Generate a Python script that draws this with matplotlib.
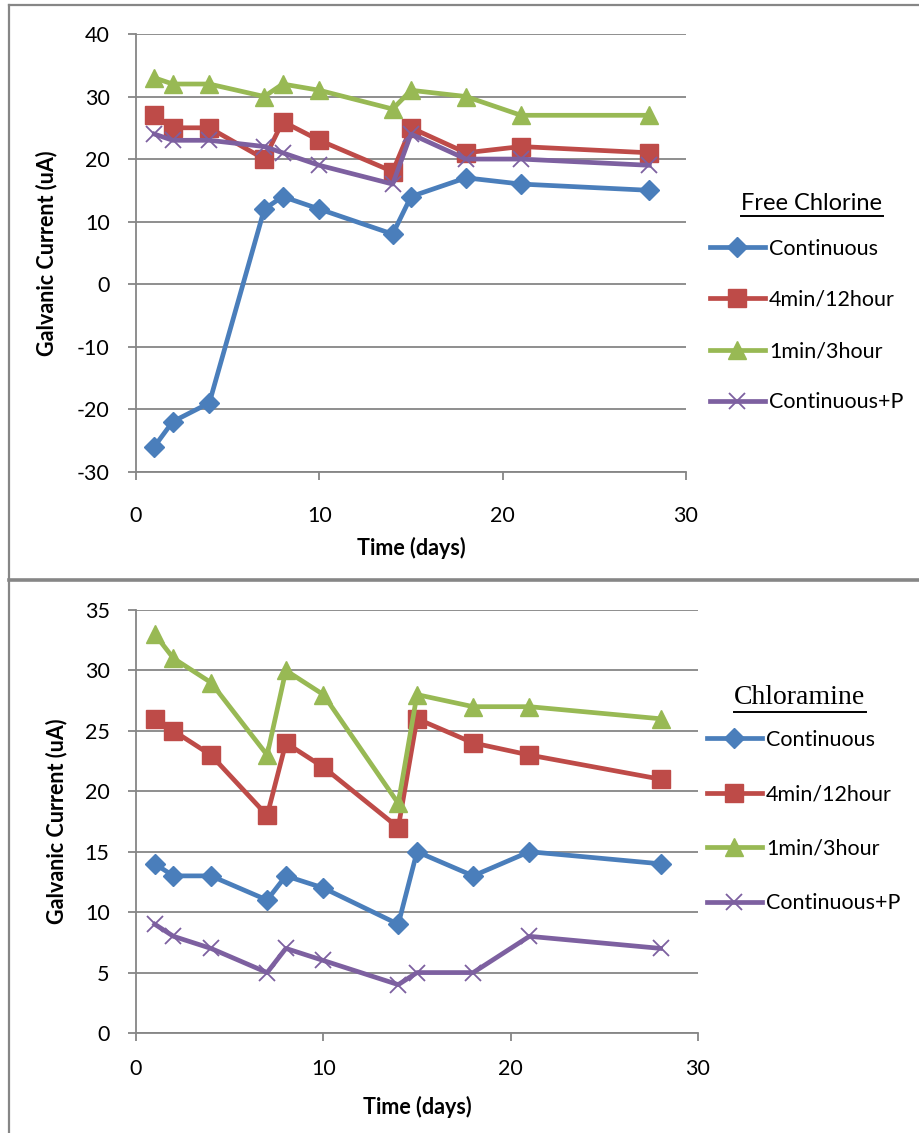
import matplotlib
matplotlib.use("Agg")
import matplotlib.pyplot as plt
from matplotlib.lines import Line2D

plt.rcParams['font.family'] = ['Lato', 'DejaVu Sans']
plt.rcParams['axes.unicode_minus'] = False

# sampling days
days = [1, 2, 4, 7, 8, 10, 14, 15, 18, 21, 28]
series_names = ['Continuous', '4min/12hour', '1min/3hour', 'Continuous+P']

# free chlorine, galvanic current (uA)
fc_continuous = [-26, -22, -19, 12, 14, 12, 8, 14, 17, 16, 15]
fc_4min_12h = [27, 25, 25, 20, 26, 23, 18, 25, 21, 22, 21]
fc_1min_3h = [33, 32, 32, 30, 32, 31, 28, 31, 30, 27, 27]
fc_continuous_p = [24, 23, 23, 22, 21, 19, 16, 24, 20, 20, 19]

# chloramine, galvanic current (uA)
cl_continuous = [14, 13, 13, 11, 13, 12, 9, 15, 13, 15, 14]
cl_4min_12h = [26, 25, 23, 18, 24, 22, 17, 26, 24, 23, 21]
cl_1min_3h = [33, 31, 29, 23, 30, 28, 19, 28, 27, 27, 26]
cl_continuous_p = [9, 8, 7, 5, 7, 6, 4, 5, 5, 8, 7]

fc_ticks = list(range(-30, 41, 10))
cl_ticks = list(range(0, 36, 5))
x_ticks = [0, 10, 20, 30]

styles = [
    dict(color='#4A7EBB', marker='D', markersize=10.5),
    dict(color='#BE4B48', marker='s', markersize=13),
    dict(color='#98B954', marker='^', markersize=13),
    dict(color='#7D60A0', marker='x', markersize=12, markeredgewidth=1.3),
]
GRID = '#868686'
W, H = 920, 1133

fig = plt.figure(figsize=(W / 100, H / 100), dpi=100)


def fx(px):
    return px / W


def fy(py):
    return 1 - py / H


# chart frames
fig.add_artist(Line2D([fx(9), 1.01], [fy(5), fy(5)], color=GRID, lw=1.6))
fig.add_artist(Line2D([fx(9), 1.01], [fy(579.5), fy(579.5)], color=GRID, lw=2.6))
fig.add_artist(Line2D([fx(9), fx(9)], [fy(5), fy(1140)], color=GRID, lw=1.6))


def panel(rect, data, yticks, ylab_x, xlab_y, xpad, title, title_xy,
          title_font, leg_xy, leg_spacing):
    ax = fig.add_axes(rect)
    for vals, name, st in zip(data, series_names, styles):
        ax.plot(days, vals, lw=3.4, label=name, clip_on=False, **st)
    ax.set_xlim(0, 30)
    ax.set_ylim(yticks[0], yticks[-1])
    ax.set_xticks(x_ticks)
    ax.set_yticks(yticks)
    ax.grid(axis='y', color=GRID, lw=1.3)
    ax.set_axisbelow(True)
    for s in ('top', 'right'):
        ax.spines[s].set_visible(False)
    for s in ('left', 'bottom'):
        ax.spines[s].set_color(GRID)
        ax.spines[s].set_linewidth(1.3)
    ax.tick_params(axis='y', length=6, width=1.3, color=GRID, pad=13,
                   labelsize=15.5)
    ax.tick_params(axis='x', length=6, width=1.3, color=GRID, pad=xpad,
                   labelsize=15.5)
    ax.set_ylabel('Galvanic Current (uA)', fontsize=15.5, fontweight='bold')
    ax.set_xlabel('Time (days)', fontsize=15.5, fontweight='bold', va='center')
    ax.yaxis.set_label_coords(ylab_x, 0.5)
    ax.xaxis.set_label_coords(0.5, xlab_y)

    t = fig.text(fx(title_xy[0]), fy(title_xy[1]), title, ha='center',
                 va='center', **title_font)
    r = fig.canvas.get_renderer()
    bb = t.get_window_extent(r).transformed(fig.transFigure.inverted())
    fig.add_artist(Line2D([bb.x0, bb.x1], [bb.y0 - 0.002, bb.y0 - 0.002],
                          color='black', lw=1.4))

    ax.legend(loc='center left', bbox_to_anchor=(fx(leg_xy[0]), fy(leg_xy[1])),
              bbox_transform=fig.transFigure, frameon=False, fontsize=15.5,
              handlelength=2.55, handletextpad=0.2, labelspacing=leg_spacing,
              borderpad=0, borderaxespad=0, markerscale=1.0)
    return ax


panel([fx(136), fy(471.7), fx(686) - fx(136), fy(34) - fy(471.7)],
      [fc_continuous, fc_4min_12h, fc_1min_3h, fc_continuous_p], fc_ticks,
      -0.143, -0.174, 19, 'Free Chlorine', (812, 203),
      dict(fontsize=17), (710, 325.5), 1.45)

panel([fx(136), fy(1033), fx(698) - fx(136), fy(610) - fy(1033)],
      [cl_continuous, cl_4min_12h, cl_1min_3h, cl_continuous_p], cl_ticks,
      -0.123, -0.175, 13, 'Chloramine', (800, 697),
      dict(fontsize=20, family='Liberation Serif'), (707, 821.5), 1.6)

fig.savefig('out.png', dpi=100)
